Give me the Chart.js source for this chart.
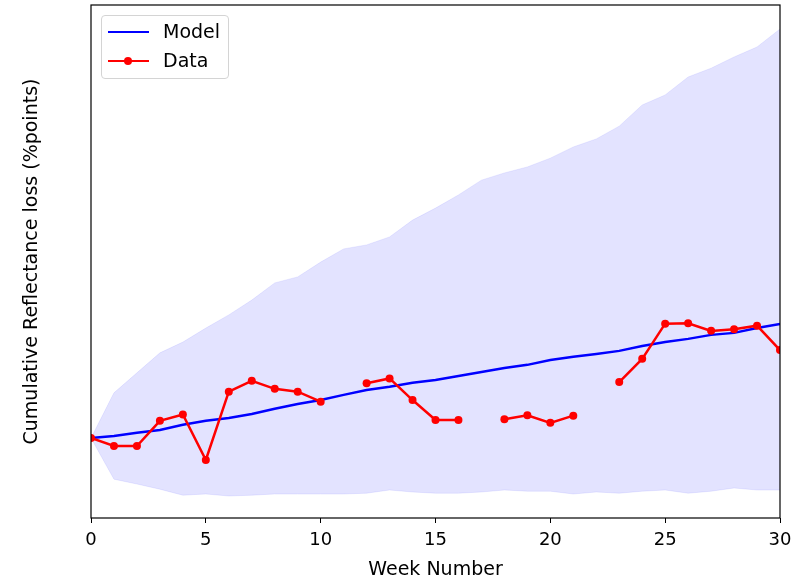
<!DOCTYPE html>
<html>
<head>
<meta charset="utf-8">
<script src="https://cdn.jsdelivr.net/npm/chart.js@4/dist/chart.umd.min.js"></script>
<style>
  body { margin: 0; background: #fff; }
  #wrap { position: relative; width: 800px; height: 581px; }
  #legend {
    position: absolute; left: 101px; top: 15px; width: 126px; height: 62px;
    border: 1px solid #d4d4d4; border-radius: 4px; background: rgba(255,255,255,0.8);
    font-family: 'DejaVu Sans', sans-serif; font-size: 19px; color: #000;
  }
  .row { position: absolute; left: 0; height: 20px; }
  .row .ln { position: absolute; left: 6px; width: 41px; top: 9px; height: 2px; }
  .row .dot { position: absolute; left: 22px; top: 6px; width: 8px; height: 8px; border-radius: 50%; background: #f00; }
  .row .txt { position: absolute; left: 61px; top: -2px; white-space: nowrap; }
</style>
</head>
<body>
<div id="wrap">
  <canvas id="chart" width="800" height="581"></canvas>
  <div id="legend">
    <div class="row" style="top: 6px;"><div class="ln" style="background:#00f"></div><div class="txt">Model</div></div>
    <div class="row" style="top: 35px;"><div class="ln" style="background:#f00"></div><div class="dot"></div><div class="txt">Data</div></div>
  </div>
</div>
<script>
const weeks = [0, 1, 2, 3, 4, 5, 6, 7, 8, 9, 10, 11, 12, 13, 14, 15, 16, 17, 18, 19, 20, 21, 22, 23, 24, 25, 26, 27, 28, 29, 30];

// model mean and uncertainty band
const modelMean = [0, 0.05, 0.13, 0.2, 0.33, 0.43, 0.5, 0.6, 0.73, 0.85, 0.95, 1.08, 1.2, 1.28, 1.38, 1.45, 1.55, 1.65, 1.75, 1.83, 1.95, 2.03, 2.1, 2.18, 2.3, 2.4, 2.48, 2.58, 2.63, 2.75, 2.85];
const bandUpper = [0, 1.13, 1.63, 2.13, 2.4, 2.75, 3.08, 3.45, 3.88, 4.03, 4.4, 4.73, 4.83, 5.03, 5.45, 5.75, 6.08, 6.45, 6.63, 6.78, 7.0, 7.28, 7.48, 7.8, 8.33, 8.58, 9.03, 9.25, 9.53, 9.78, 10.23];
const bandLower = [0, -1.03, -1.15, -1.28, -1.43, -1.4, -1.45, -1.43, -1.4, -1.4, -1.4, -1.4, -1.38, -1.3, -1.35, -1.38, -1.38, -1.35, -1.3, -1.33, -1.33, -1.4, -1.35, -1.38, -1.33, -1.3, -1.38, -1.33, -1.25, -1.3, -1.3];

// measured data (null = missing week)
const measured = [0, -0.2, -0.2, 0.43, 0.59, -0.55, 1.16, 1.43, 1.23, 1.16, 0.91, null, 1.37, 1.49, 0.95, 0.45, 0.45, null, 0.47, 0.57, 0.38, 0.56, null, 1.4, 1.98, 2.86, 2.87, 2.68, 2.72, 2.81, 2.2];

const xTicks = [0, 5, 10, 15, 20, 25, 30];

const toPoints = arr => weeks.map((w, i) => ({ x: w, y: arr[i] }));

Chart.defaults.font.family = "'DejaVu Sans', sans-serif";
Chart.defaults.color = '#000';

// full box around the plot area
const frame = {
  id: 'frame',
  afterDraw(chart) {
    const { ctx, chartArea: a } = chart;
    ctx.save();
    ctx.strokeStyle = '#000';
    ctx.lineWidth = 1.2;
    ctx.strokeRect(a.left, a.top, a.right - a.left, a.bottom - a.top);
    ctx.restore();
  }
};

new Chart(document.getElementById('chart'), {
  type: 'line',
  data: {
    datasets: [
      {
        label: 'upper',
        data: toPoints(bandUpper),
        borderColor: 'rgba(0,0,255,0.08)',
        borderWidth: 1,
        backgroundColor: 'rgba(0,0,255,0.11)',
        fill: '+1',
        pointRadius: 0,
        tension: 0,
        order: 10
      },
      {
        label: 'lower',
        data: toPoints(bandLower),
        borderColor: 'rgba(0,0,255,0.08)',
        borderWidth: 1,
        pointRadius: 0,
        fill: false,
        tension: 0,
        order: 9
      },
      {
        label: 'Model',
        data: toPoints(modelMean),
        borderColor: '#0000ff',
        borderWidth: 2.5,
        pointRadius: 0,
        fill: false,
        tension: 0,
        order: 2
      },
      {
        label: 'Data',
        data: toPoints(measured),
        borderColor: '#ff0000',
        backgroundColor: '#ff0000',
        borderWidth: 2.5,
        pointRadius: 4,
        pointBorderWidth: 0,
        fill: false,
        spanGaps: false,
        tension: 0,
        order: 1
      }
    ]
  },
  options: {
    responsive: false,
    animation: false,
    layout: { padding: { top: 5, right: 20, left: 0, bottom: 0 } },
    plugins: {
      legend: { display: false },
      tooltip: { enabled: false },
      filler: { drawTime: 'beforeDatasetsDraw' }
    },
    scales: {
      x: {
        type: 'linear',
        min: 0,
        max: 30,
        afterBuildTicks: scale => { scale.ticks = xTicks.map(v => ({ value: v })); },
        afterFit: scale => { scale.height = 63; },
        ticks: { font: { size: 18 }, padding: 7, maxRotation: 0 },
        grid: { display: true, drawOnChartArea: false, drawTicks: true, tickLength: 5, color: '#000', lineWidth: 1 },
        border: { display: false },
        title: { display: true, text: 'Week Number', font: { size: 19 }, padding: { top: 0, bottom: 0 } }
      },
      y: {
        min: -2.0,
        max: 10.83,
        afterFit: scale => { scale.width = 91; },
        ticks: { display: false },
        grid: { display: false },
        border: { display: false },
        title: { display: true, text: 'Cumulative Reflectance loss (%points)', font: { size: 19 }, padding: { top: 21, bottom: 0 } }
      }
    }
  },
  plugins: [frame]
});
</script>
</body>
</html>
